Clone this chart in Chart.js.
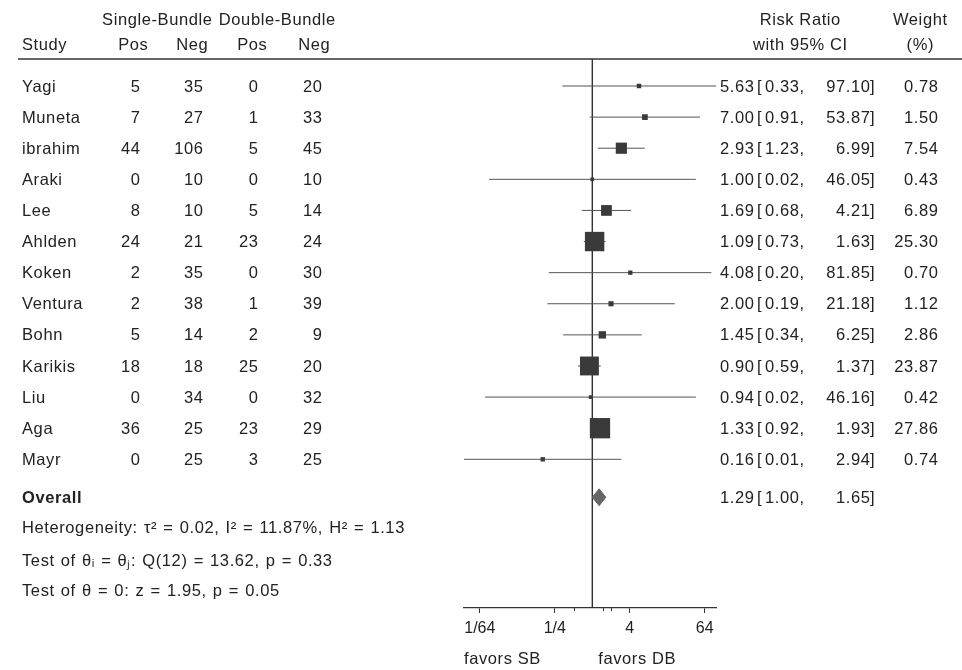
<!DOCTYPE html>
<html>
<head>
<meta charset="utf-8">
<script src="https://cdn.jsdelivr.net/npm/chart.js@4.4.1/dist/chart.umd.min.js"></script>
<style>
  html, body { margin: 0; padding: 0; background: #fff; }
  #wrap { width: 962px; height: 670px; position: relative; }
</style>
</head>
<body>
<div id="wrap"><canvas id="c"></canvas></div>
<script>
// ---- data ----
const studies   = ['Yagi','Muneta','ibrahim','Araki','Lee','Ahlden','Koken','Ventura','Bohn','Karikis','Liu','Aga','Mayr'];
const sbPos     = [5, 7, 44, 0, 8, 24, 2, 2, 5, 18, 0, 36, 0];
const sbNeg     = [35, 27, 106, 10, 10, 21, 35, 38, 14, 18, 34, 25, 25];
const dbPos     = [0, 1, 5, 0, 5, 23, 0, 1, 2, 25, 0, 23, 3];
const dbNeg     = [20, 33, 45, 10, 14, 24, 30, 39, 9, 20, 32, 29, 25];
const riskRatio = [5.63, 7.00, 2.93, 1.00, 1.69, 1.09, 4.08, 2.00, 1.45, 0.90, 0.94, 1.33, 0.16];
const ciLower   = [0.33, 0.91, 1.23, 0.022, 0.68, 0.73, 0.20, 0.19, 0.34, 0.59, 0.019, 0.92, 0.0087];
const ciUpper   = [97.10, 53.87, 6.99, 46.05, 4.21, 1.63, 81.85, 21.18, 6.25, 1.37, 46.16, 1.93, 2.94];
const weights   = [0.78, 1.50, 7.54, 0.43, 6.89, 25.30, 0.70, 1.12, 2.86, 23.87, 0.42, 27.86, 0.74];
const overallRR    = 1.29;
const overallLower = 1.00;
const overallUpper = 1.65;
const xTickValues  = [1/64, 1/4, 4, 64];
const xTickLabels  = ['1/64', '1/4', '4', '64'];
const minorTickValues = [0.5, 1.5, 2];
const statLines = [
  'Heterogeneity: \u03C4\u00B2 = 0.02, I\u00B2 = 11.87%, H\u00B2 = 1.13',
  'Test of \u03B8\u1D62 = \u03B8\u2C7C: Q(12) = 13.62, p = 0.33',
  'Test of \u03B8 = 0: z = 1.95, p = 0.05'
];

// ---- layout constants ----
const ROW_OVERALL = 13.22;
const ROW_STATS = [14.18, 15.24, 16.2];
const ROW_HEAD1 = -2.15, ROW_HEAD2 = -1.32;
const FONT = '"Liberation Sans", Arial, sans-serif';
const FSIZE = 16.5;
const LS = 0.6;
const TXT = '#222';

const fmt = v => v.toFixed(2);

// CI line datasets
const ciSets = studies.map((s, i) => ({
  type: 'scatter',
  data: [{x: ciLower[i], y: i}, {x: ciUpper[i], y: i}],
  showLine: true,
  borderColor: '#555',
  borderWidth: 1,
  pointRadius: 0,
  order: 2
}));

const markerSet = {
  type: 'scatter',
  data: studies.map((s, i) => ({x: riskRatio[i], y: i})),
  pointStyle: 'rect',
  pointRadius: ctx => (3.6 * Math.sqrt(weights[ctx.dataIndex]) + 1.3) / Math.SQRT2,
  pointBackgroundColor: '#3a3a3a',
  pointBorderColor: '#3a3a3a',
  pointBorderWidth: 0,
  order: 1
};

const diamondSet = {
  type: 'scatter',
  data: [
    {x: overallLower, y: ROW_OVERALL},
    {x: overallRR, y: ROW_OVERALL - 0.27},
    {x: overallUpper, y: ROW_OVERALL},
    {x: overallRR, y: ROW_OVERALL + 0.27},
    {x: overallLower, y: ROW_OVERALL}
  ],
  showLine: true,
  fill: 'shape',
  backgroundColor: '#666',
  borderColor: '#666',
  borderWidth: 1,
  pointRadius: 0,
  order: 1
};

const tablePlugin = {
  id: 'table',
  beforeDatasetsDraw(chart) {
    const {ctx, chartArea, scales: {x}} = chart;
    const px = x.getPixelForValue(1);
    ctx.save();
    ctx.strokeStyle = '#222';
    ctx.lineWidth = 1.3;
    ctx.beginPath();
    ctx.moveTo(px, chartArea.top);
    ctx.lineTo(px, chartArea.bottom);
    ctx.stroke();
    ctx.restore();
  },
  afterDraw(chart) {
    const {ctx, chartArea, scales: {x, y}} = chart;
    const t = (s, xx, yy, align, bold, ws) => {
      ctx.font = (bold ? 'bold ' : '') + FSIZE + 'px ' + FONT;
      ctx.letterSpacing = LS + 'px';
      ctx.wordSpacing = (ws || 0) + 'px';
      align = align || 'left';
      ctx.textAlign = align;
      ctx.textBaseline = 'middle';
      ctx.fillStyle = TXT;
      const dx = align === 'right' ? LS : (align === 'center' ? LS / 2 : 0);
      ctx.fillText(s, xx + dx, yy);
    };
    const ciText = (est, lo, hi, yy) => {
      t(fmt(est), 754, yy, 'right');
      t('[', 757, yy);
      t(fmt(lo) + ',', 765, yy);
      t(fmt(hi), 870, yy, 'right');
      t(']', 870, yy);
    };
    ctx.save();
    // header line
    ctx.strokeStyle = '#333';
    ctx.lineWidth = 1.3;
    ctx.beginPath();
    ctx.moveTo(18, chartArea.top);
    ctx.lineTo(962, chartArea.top);
    ctx.stroke();

    // minor ticks
    ctx.strokeStyle = '#333';
    ctx.lineWidth = 1;
    minorTickValues.forEach(v => {
      const p = Math.round(x.getPixelForValue(v)) + 0.5;
      ctx.beginPath();
      ctx.moveTo(p, chartArea.bottom);
      ctx.lineTo(p, chartArea.bottom + 3);
      ctx.stroke();
    });

    const h1 = y.getPixelForValue(ROW_HEAD1) + 1;
    const h2 = y.getPixelForValue(ROW_HEAD2) + 1;
    t('Single-Bundle', 157, h1, 'center');
    t('Double-Bundle', 277, h1, 'center');
    t('Study', 22, h2);
    t('Pos', 133, h2, 'center');
    t('Neg', 192, h2, 'center');
    t('Pos', 252, h2, 'center');
    t('Neg', 314, h2, 'center');
    t('Risk Ratio', 800, h1, 'center');
    t('with 95% CI', 800, h2, 'center');
    t('Weight', 920, h1, 'center');
    t('(%)', 920, h2, 'center');

    studies.forEach((s, i) => {
      const yy = y.getPixelForValue(i) + 1;
      t(s, 22, yy);
      t(String(sbPos[i]), 140, yy, 'right');
      t(String(sbNeg[i]), 203, yy, 'right');
      t(String(dbPos[i]), 258, yy, 'right');
      t(String(dbNeg[i]), 322, yy, 'right');
      ciText(riskRatio[i], ciLower[i], ciUpper[i], yy);
      t(fmt(weights[i]), 938, yy, 'right');
    });

    const yo = y.getPixelForValue(ROW_OVERALL) + 1;
    t('Overall', 22, yo, 'left', true);
    ciText(overallRR, overallLower, overallUpper, yo);

    statLines.forEach((s, k) => t(s, 22, y.getPixelForValue(ROW_STATS[k]) + 1, 'left', false, 1.0));

    t('favors SB', chartArea.left, 659);
    t('favors DB', x.getPixelForValue(1) + 6, 659);
    ctx.restore();
  }
};

new Chart(document.getElementById('c'), {
  data: { datasets: [...ciSets, markerSet, diamondSet] },
  options: {
    responsive: true,
    maintainAspectRatio: false,
    animation: false,
    events: [],
    layout: { padding: { left: 464, right: 246, top: 59, bottom: 32 } },
    plugins: { legend: { display: false }, tooltip: { enabled: false } },
    scales: {
      x: {
        type: 'logarithmic',
        min: Math.min(...ciLower),
        max: Math.max(...ciUpper),
        afterBuildTicks: scale => { scale.ticks = xTickValues.map(v => ({value: v})); },
        afterFit: scale => { scale.height = 30; },
        ticks: {
          autoSkip: false,
          maxRotation: 0,
          padding: 6,
          color: TXT,
          font: { family: FONT, size: 16 },
          callback: (v, i) => xTickLabels[i]
        },
        grid: { drawOnChartArea: false, drawTicks: true, tickLength: 5, color: '#333', lineWidth: 1 },
        border: { display: true, color: '#333', width: 1.3 }
      },
      y: {
        type: 'linear',
        display: false,
        reverse: true,
        min: -0.868,
        max: 16.78
      }
    }
  },
  plugins: [tablePlugin]
});
</script>
</body>
</html>
